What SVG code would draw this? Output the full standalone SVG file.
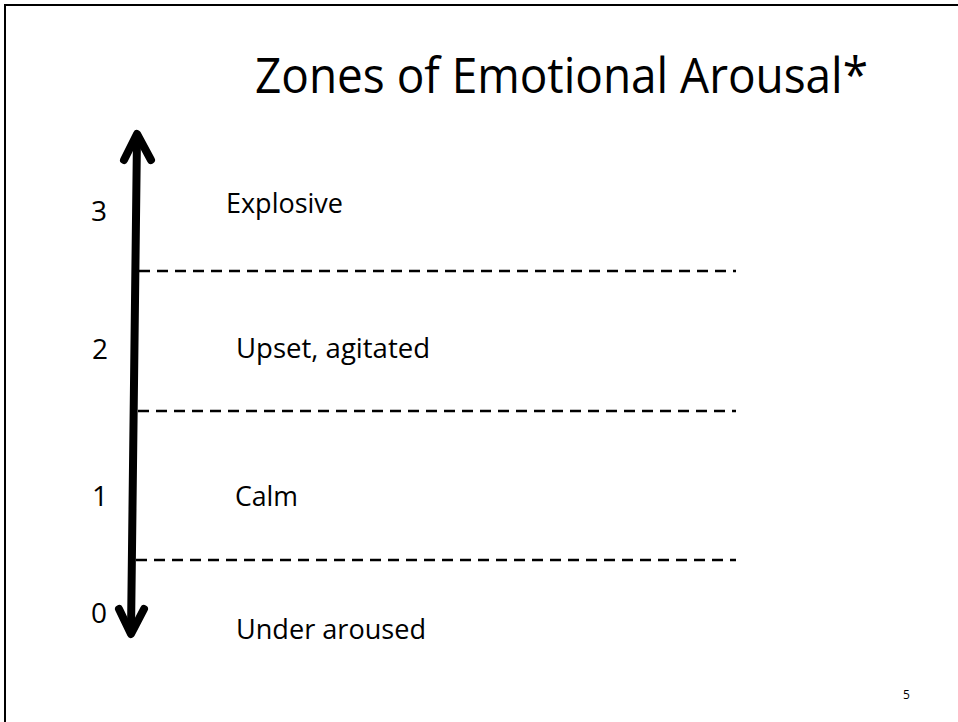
<svg xmlns="http://www.w3.org/2000/svg" width="958" height="722" viewBox="0 0 958 722">
  <style>
    .t { font-family: "Open Sans", "Noto Sans", "Liberation Sans", sans-serif; fill: #000; }
    .lbl { font-size: 28px; }
    .dash { stroke: #000; stroke-width: 2.5; stroke-dasharray: 11 7; fill: none; }
    .arr { stroke: #000; stroke-width: 8; fill: none; stroke-linecap: round; stroke-linejoin: round; }
  </style>
  <rect x="0" y="0" width="958" height="722" fill="#fff"/>
  <rect id="frame" x="5" y="5" width="1000" height="800" fill="none" stroke="#000" stroke-width="2"/>
  <g id="title">
    <text class="t" x="255" y="93" font-size="49" textLength="613" lengthAdjust="spacingAndGlyphs">Zones of Emotional Arousal*</text>
  </g>
  <g id="connectors">
    <line class="arr" x1="137" y1="136" x2="131" y2="632"/>
    <polyline class="arr" points="124,160 137,134 151,160"/>
    <polyline class="arr" points="119,609 131,634 144,609"/>
    <line class="dash" x1="139" y1="271" x2="736" y2="271"/>
    <line class="dash" x1="138" y1="411" x2="736" y2="411"/>
    <line class="dash" x1="136" y1="560" x2="736" y2="560"/>
  </g>
  <g id="zone3">
    <text class="t lbl" x="91" y="221">3</text>
    <text class="t lbl" x="226" y="213" textLength="117" lengthAdjust="spacingAndGlyphs">Explosive</text>
  </g>
  <g id="zone2">
    <text class="t lbl" x="92" y="359">2</text>
    <text class="t lbl" x="236" y="358" textLength="194" lengthAdjust="spacingAndGlyphs">Upset, agitated</text>
  </g>
  <g id="zone1">
    <text class="t lbl" x="92" y="506">1</text>
    <text class="t lbl" x="235" y="506" textLength="63" lengthAdjust="spacingAndGlyphs">Calm</text>
  </g>
  <g id="zone0">
    <text class="t lbl" x="91" y="623">0</text>
    <text class="t lbl" x="236" y="639" textLength="190" lengthAdjust="spacingAndGlyphs">Under aroused</text>
  </g>
  <g id="pagenum">
    <text class="t" x="903" y="699" font-size="12">5</text>
  </g>
</svg>
